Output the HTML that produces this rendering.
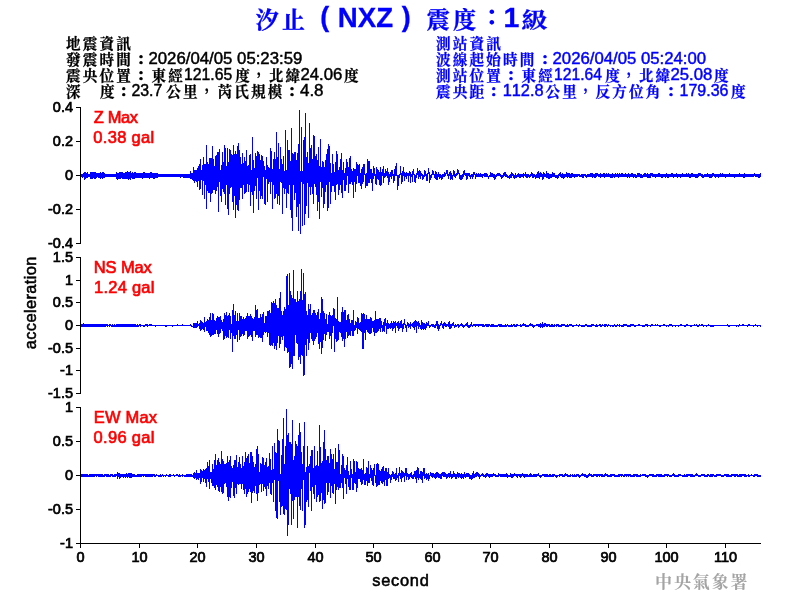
<!DOCTYPE html>
<html lang="zh-Hant"><head><meta charset="utf-8"><title>汐止 (NXZ) 震度：1級</title>
<style>html,body{margin:0;padding:0;background:#fff}body{width:800px;height:600px;overflow:hidden}svg{display:block}text{font-family:"Liberation Sans",sans-serif}.k{font-family:"Liberation Sans","Noto Serif CJK SC",serif;font-weight:700;stroke-width:.25px}.k2{font-family:"Liberation Sans","Noto Serif CJK SC",serif;font-weight:700}.b{font-weight:bold;font-kerning:none}.t{font-size:14.5px;fill:#000;stroke:#000;stroke-width:.7px}.l{font-size:16px;font-kerning:none;stroke-width:.45px}.c{font-size:14.6px;letter-spacing:2.15px}.p{font-size:15px;stroke-width:.7px;stroke-linejoin:miter}.q{font-size:14px;stroke-width:.3px}.r{font-size:16.5px;fill:#f00;stroke:#f00;stroke-width:.65px;font-kerning:none}.a{font-size:16.4px;fill:#000;stroke:#000;stroke-width:.55px}</style></head><body>
<svg width="800" height="600" viewBox="0 0 800 600">
<rect width="800" height="600" fill="#fff"/>
<g fill="#00f" font-size="24px" stroke="#00f" stroke-width=".3">
<text class="k2" x="255.8" y="27.8" font-size="23px" letter-spacing="3.2">汐止</text>
<text class="b" x="320.3" y="26.25" font-size="26.9px">(</text>
<text class="b" x="337.8" y="26.65" font-size="28.5px" textLength="55.3" lengthAdjust="spacingAndGlyphs">NXZ</text>
<text class="b" x="401.7" y="26.25" font-size="26.9px">)</text>
<text class="k2" x="426.8" y="27.8" font-size="23px" letter-spacing="3.2">震度</text>
<text class="k2" x="484.65" y="25.4" font-size="26.5px" stroke="none">：</text>
<text class="b" x="503.6" y="26.5" font-size="28.5px">1</text>
<text class="k2" x="521.5" y="27.3" font-size="21px" textLength="26" lengthAdjust="spacingAndGlyphs">級</text>
</g>
<g fill="#000" stroke="#000">
<text class="k c" x="66.08" y="48.9">地震資訊</text>
</g>
<g fill="#000" stroke="#000">
<text class="k c" x="66.08" y="64.9">發震時間</text>
<text class="k p" x="137.00" y="63.7">：</text>
<text class="l" x="148.46" y="63.5" textLength="153.89" lengthAdjust="spacingAndGlyphs" xml:space="preserve">2026/04/05 05:23:59</text>
</g>
<g fill="#000" stroke="#000">
<text class="k c" x="66.08" y="80.9">震央位置</text>
<text class="k p" x="137.00" y="79.7">：</text>
<text class="k c" x="151.47" y="80.9">東經</text>
<text class="l" x="184.02" y="79.5" textLength="48.16" lengthAdjust="spacingAndGlyphs" xml:space="preserve">121.65</text>
<text class="k c" x="235.27" y="80.9">度</text>
<text class="k q" x="256.65" y="73.9">，</text>
<text class="k c" x="268.68" y="80.9">北緯</text>
<text class="l" x="300.47" y="79.5" textLength="41.87" lengthAdjust="spacingAndGlyphs" xml:space="preserve">24.06</text>
<text class="k c" x="344.07" y="80.9">度</text>
</g>
<g fill="#000" stroke="#000">
<text class="k c" x="66.08" y="96.9">深　</text>
<text class="k c" x="99.98" y="96.9">度</text>
<text class="k p" x="119.75" y="95.7">：</text>
<text class="l" x="131.41" y="95.5" textLength="30.93" lengthAdjust="spacingAndGlyphs" xml:space="preserve">23.7</text>
<text class="k c" x="166.17" y="96.9">公里</text>
<text class="k q" x="204.80" y="89.9">，</text>
<text class="k c" x="217.47" y="96.9">芮氏規模</text>
<text class="k p" x="287.90" y="95.7">：</text>
<text class="l" x="299.99" y="95.5" textLength="23.56" lengthAdjust="spacingAndGlyphs" xml:space="preserve">4.8</text>
</g>
<g fill="#00f" stroke="#00f">
<text class="k c" x="436.07" y="48.9">測站資訊</text>
</g>
<g fill="#00f" stroke="#00f">
<text class="k c" x="436.07" y="64.9">波線起始時間</text>
<text class="k p" x="541.00" y="63.7">：</text>
<text class="l" x="552.57" y="63.5" textLength="153.52" lengthAdjust="spacingAndGlyphs" xml:space="preserve">2026/04/05 05:24:00</text>
</g>
<g fill="#00f" stroke="#00f">
<text class="k c" x="436.07" y="80.9">測站位置</text>
<text class="k p" x="507.00" y="79.7">：</text>
<text class="k c" x="521.48" y="80.9">東經</text>
<text class="l" x="554.03" y="79.5" textLength="47.90" lengthAdjust="spacingAndGlyphs" xml:space="preserve">121.64</text>
<text class="k c" x="605.28" y="80.9">度</text>
<text class="k q" x="626.65" y="73.9">，</text>
<text class="k c" x="638.68" y="80.9">北緯</text>
<text class="l" x="670.47" y="79.5" textLength="41.87" lengthAdjust="spacingAndGlyphs" xml:space="preserve">25.08</text>
<text class="k c" x="714.08" y="80.9">度</text>
</g>
<g fill="#00f" stroke="#00f">
<text class="k c" x="436.07" y="96.9">震央距</text>
<text class="k p" x="489.75" y="95.7">：</text>
<text class="l" x="502.73" y="95.5" textLength="40.84" lengthAdjust="spacingAndGlyphs" xml:space="preserve">112.8</text>
<text class="k c" x="545.58" y="96.9">公里</text>
<text class="k q" x="583.50" y="89.9">，</text>
<text class="k c" x="595.58" y="96.9">反方位角</text>
<text class="k p" x="666.90" y="95.7">：</text>
<text class="l" x="679.60" y="95.5" textLength="48.83" lengthAdjust="spacingAndGlyphs" xml:space="preserve">179.36</text>
<text class="k c" x="730.88" y="96.9">度</text>
</g>
<g fill="#000" shape-rendering="crispEdges">
<rect x="80" y="107" width="1" height="137"/>
<rect x="76" y="107" width="4" height="1"/>
<rect x="76" y="141" width="4" height="1"/>
<rect x="76" y="175" width="4" height="1"/>
<rect x="76" y="209" width="4" height="1"/>
<rect x="76" y="243" width="4" height="1"/>
<rect x="80" y="257" width="1" height="137"/>
<rect x="76" y="257" width="4" height="1"/>
<rect x="76" y="280" width="4" height="1"/>
<rect x="76" y="302" width="4" height="1"/>
<rect x="76" y="325" width="4" height="1"/>
<rect x="76" y="348" width="4" height="1"/>
<rect x="76" y="370" width="4" height="1"/>
<rect x="76" y="393" width="4" height="1"/>
<rect x="80" y="407" width="1" height="137"/>
<rect x="76" y="407" width="4" height="1"/>
<rect x="76" y="441" width="4" height="1"/>
<rect x="76" y="475" width="4" height="1"/>
<rect x="76" y="509" width="4" height="1"/>
<rect x="76" y="543" width="4" height="1"/>
<rect x="80" y="543" width="681" height="1"/>
<rect x="80" y="543" width="1" height="5"/>
<rect x="139" y="543" width="1" height="5"/>
<rect x="197" y="543" width="1" height="5"/>
<rect x="256" y="543" width="1" height="5"/>
<rect x="315" y="543" width="1" height="5"/>
<rect x="373" y="543" width="1" height="5"/>
<rect x="432" y="543" width="1" height="5"/>
<rect x="490" y="543" width="1" height="5"/>
<rect x="549" y="543" width="1" height="5"/>
<rect x="608" y="543" width="1" height="5"/>
<rect x="666" y="543" width="1" height="5"/>
<rect x="725" y="543" width="1" height="5"/>
</g>
<g class="t" text-anchor="end">
<text x="73" y="112">0.4</text>
<text x="73" y="146">0.2</text>
<text x="73" y="180">0</text>
<text x="73" y="214">-0.2</text>
<text x="73" y="248">-0.4</text>
<text x="73" y="262">1.5</text>
<text x="73" y="285">1</text>
<text x="73" y="307">0.5</text>
<text x="73" y="330">0</text>
<text x="73" y="353">-0.5</text>
<text x="73" y="375">-1</text>
<text x="73" y="398">-1.5</text>
<text x="73" y="412">1</text>
<text x="73" y="446">0.5</text>
<text x="73" y="480">0</text>
<text x="73" y="514">-0.5</text>
<text x="73" y="548">-1</text>
</g>
<g class="t" text-anchor="middle">
<text x="80.5" y="562.1">0</text>
<text x="139.5" y="562.1">10</text>
<text x="197.5" y="562.1">20</text>
<text x="256.5" y="562.1">30</text>
<text x="315.5" y="562.1">40</text>
<text x="373.5" y="562.1">50</text>
<text x="432.5" y="562.1">60</text>
<text x="490.5" y="562.1">70</text>
<text x="549.5" y="562.1">80</text>
<text x="608.5" y="562.1">90</text>
<text x="666.5" y="562.1">100</text>
<text x="725.5" y="562.1">110</text>
</g>
<text class="a" x="400.9" y="585.6" text-anchor="middle" letter-spacing="0.75">second</text>
<text class="a" transform="translate(36.4 302.7) rotate(-90)" text-anchor="middle" letter-spacing="0.4">acceleration</text>
<g class="r">
<text x="93.7" y="123" textLength="44.4" lengthAdjust="spacing">Z Max</text><text x="93.3" y="142.8" textLength="60.8" lengthAdjust="spacing">0.38 gal</text>
<text x="93.75" y="273" textLength="58.1" lengthAdjust="spacing">NS Max</text><text x="94.05" y="292.8" textLength="60.4" lengthAdjust="spacing">1.24 gal</text>
<text x="93.85" y="423" textLength="63.2" lengthAdjust="spacing">EW Max</text><text x="93.55" y="442.8" textLength="60.9" lengthAdjust="spacing">0.96 gal</text>
</g>
<text class="k" x="655" y="587.9" font-size="17px" fill="#a4a4a4" letter-spacing="1.9">中央氣象署</text>
<g fill="#00f" shape-rendering="crispEdges">
<path d="M81 174v3h1v-3zM82 174v4h1v-4zM83 173v4h1v-4zM84 172v8h1v-8zM85 172v7h1v-7zM86 173v5h1v-5zM87 172v6h1v-6zM88 174v3h1v-3zM89 174v3h1v-3zM90 172v7h1v-7zM91 172v7h1v-7zM92 172v7h1v-7zM93 172v6h1v-6zM94 172v7h1v-7zM95 172v7h1v-7zM96 173v5h1v-5zM97 173v4h1v-4zM98 173v5h1v-5zM99 173v5h1v-5zM100 172v7h1v-7zM101 173v5h1v-5zM102 172v7h1v-7zM103 172v6h1v-6zM104 173v5h1v-5zM105 174v3h1v-3zM106 174v3h1v-3zM107 174v3h1v-3zM108 174v3h1v-3zM109 174v3h1v-3zM110 174v3h1v-3zM111 174v3h1v-3zM112 174v3h1v-3zM113 174v3h1v-3zM114 174v3h1v-3zM115 174v3h1v-3zM116 172v7h1v-7zM117 173v7h1v-7zM118 173v6h1v-6zM119 172v7h1v-7zM120 172v7h1v-7zM121 172v6h1v-6zM122 172v7h1v-7zM123 173v6h1v-6zM124 173v6h1v-6zM125 172v7h1v-7zM126 172v7h1v-7zM127 171v8h1v-8zM128 172v8h1v-8zM129 172v7h1v-7zM130 171v9h1v-9zM131 173v5h1v-5zM132 172v7h1v-7zM133 173v6h1v-6zM134 172v7h1v-7zM135 172v6h1v-6zM136 173v5h1v-5zM137 173v5h1v-5zM138 173v5h1v-5zM139 173v5h1v-5zM140 173v5h1v-5zM141 173v5h1v-5zM142 173v6h1v-6zM143 172v6h1v-6zM144 172v6h1v-6zM145 173v5h1v-5zM146 173v5h1v-5zM147 173v5h1v-5zM148 173v5h1v-5zM149 173v6h1v-6zM150 172v6h1v-6zM151 172v6h1v-6zM152 173v5h1v-5zM153 173v6h1v-6zM154 173v6h1v-6zM155 173v5h1v-5zM156 173v5h1v-5zM157 173v5h1v-5zM158 174v3h1v-3zM159 174v3h1v-3zM160 174v3h1v-3zM161 174v3h1v-3zM162 174v3h1v-3zM163 174v3h1v-3zM164 174v3h1v-3zM165 174v3h1v-3zM166 174v3h1v-3zM167 174v3h1v-3zM168 174v3h1v-3zM169 174v3h1v-3zM170 174v3h1v-3zM171 174v3h1v-3zM172 174v3h1v-3zM173 174v3h1v-3zM174 174v3h1v-3zM175 174v3h1v-3zM176 174v3h1v-3zM177 174v3h1v-3zM178 174v3h1v-3zM179 174v3h1v-3zM180 174v4h1v-4zM181 174v3h1v-3zM182 174v3h1v-3zM183 174v4h1v-4zM184 174v4h1v-4zM185 174v4h1v-4zM186 174v4h1v-4zM187 174v4h1v-4zM188 174v4h1v-4zM189 174v4h1v-4zM190 171v8h1v-8zM191 173v6h1v-6zM192 173v7h1v-7zM193 167v14h1v-14zM194 170v13h1v-13zM195 170v11h1v-11zM196 170v12h1v-12zM197 168v19h1v-19zM198 166v15h1v-15zM199 164v26h1v-26zM200 159v30h1v-30zM201 170v10h1v-10zM202 165v30h1v-30zM203 157v24h1v-24zM204 164v35h1v-35zM205 164v21h1v-21zM206 145v64h1v-64zM207 162v29h1v-29zM208 164v29h1v-29zM209 158v35h1v-35zM210 158v44h1v-44zM211 158v36h1v-36zM212 146v47h1v-47zM213 159v31h1v-31zM214 166v24h1v-24zM215 156v38h1v-38zM216 155v36h1v-36zM217 152v35h1v-35zM218 152v60h1v-60zM219 149v33h1v-33zM220 170v26h1v-26zM221 165v37h1v-37zM222 152v37h1v-37zM223 162v30h1v-30zM224 145v49h1v-49zM225 148v57h1v-57zM226 166v19h1v-19zM227 148v61h1v-61zM228 162v53h1v-53zM229 149v45h1v-45zM230 150v38h1v-38zM231 154v33h1v-33zM232 155v47h1v-47zM233 145v65h1v-65zM234 154v42h1v-42zM235 151v67h1v-67zM236 154v51h1v-51zM237 146v64h1v-64zM238 143v68h1v-68zM239 150v50h1v-50zM240 157v31h1v-31zM241 164v24h1v-24zM242 153v46h1v-46zM243 163v22h1v-22zM244 157v37h1v-37zM245 161v32h1v-32zM246 150v42h1v-42zM247 166v18h1v-18zM248 165v27h1v-27zM249 155v30h1v-30zM250 154v52h1v-52zM251 170v22h1v-22zM252 137v58h1v-58zM253 160v53h1v-53zM254 168v23h1v-23zM255 153v33h1v-33zM256 156v43h1v-43zM257 151v27h1v-27zM258 152v58h1v-58zM259 154v37h1v-37zM260 160v39h1v-39zM261 155v41h1v-41zM262 156v43h1v-43zM263 161v16h1v-16zM264 166v38h1v-38zM265 170v35h1v-35zM266 157v22h1v-22zM267 165v37h1v-37zM268 167v17h1v-17zM269 168v14h1v-14zM270 148v46h1v-46zM271 151v31h1v-31zM272 169v40h1v-40zM273 159v26h1v-26zM274 152v47h1v-47zM275 159v39h1v-39zM276 132v62h1v-62zM277 157v47h1v-47zM278 143v53h1v-53zM279 169v36h1v-36zM280 147v35h1v-35zM281 159v24h1v-24zM282 164v50h1v-50zM283 156v32h1v-32zM284 171v23h1v-23zM285 130v59h1v-59zM286 170v38h1v-38zM287 140v53h1v-53zM288 150v44h1v-44zM289 150v35h1v-35zM290 161v49h1v-49zM291 128v90h1v-90zM292 153v78h1v-78zM293 154v31h1v-31zM294 152v48h1v-48zM295 152v41h1v-41zM296 160v57h1v-57zM297 153v54h1v-54zM298 144v87h1v-87zM299 110v94h1v-94zM300 171v63h1v-63zM301 127v55h1v-55zM302 171v55h1v-55zM303 140v44h1v-44zM304 137v88h1v-88zM305 113v101h1v-101zM306 157v49h1v-49zM307 152v31h1v-31zM308 163v55h1v-55zM309 123v64h1v-64zM310 148v47h1v-47zM311 145v42h1v-42zM312 159v35h1v-35zM313 135v69h1v-69zM314 136v48h1v-48zM315 156v31h1v-31zM316 154v41h1v-41zM317 160v51h1v-51zM318 147v55h1v-55zM319 166v53h1v-53zM320 139v43h1v-43zM321 167v30h1v-30zM322 161v27h1v-27zM323 162v46h1v-46zM324 167v37h1v-37zM325 160v32h1v-32zM326 154v31h1v-31zM327 149v62h1v-62zM328 144v64h1v-64zM329 146v36h1v-36zM330 163v41h1v-41zM331 173v19h1v-19zM332 154v32h1v-32zM333 164v22h1v-22zM334 172v20h1v-20zM335 162v38h1v-38zM336 151v34h1v-34zM337 154v30h1v-30zM338 170v25h1v-25zM339 167v23h1v-23zM340 159v26h1v-26zM341 153v40h1v-40zM342 170v28h1v-28zM343 162v18h1v-18zM344 173v18h1v-18zM345 168v23h1v-23zM346 159v26h1v-26zM347 162v14h1v-14zM348 167v26h1v-26zM349 158v26h1v-26zM350 156v28h1v-28zM351 169v13h1v-13zM352 171v14h1v-14zM353 168v30h1v-30zM354 169v13h1v-13zM355 169v23h1v-23zM356 162v22h1v-22zM357 164v12h1v-12zM358 165v18h1v-18zM359 164v19h1v-19zM360 173v13h1v-13zM361 169v20h1v-20zM362 167v17h1v-17zM363 164v18h1v-18zM364 164v11h1v-11zM365 174v14h1v-14zM366 173v13h1v-13zM367 159v27h1v-27zM368 161v22h1v-22zM369 161v22h1v-22zM370 169v10h1v-10zM371 169v14h1v-14zM372 173v18h1v-18zM373 166v13h1v-13zM374 168v8h1v-8zM375 174v10h1v-10zM376 167v18h1v-18zM377 169v10h1v-10zM378 170v10h1v-10zM379 172v13h1v-13zM380 167v19h1v-19zM381 172v13h1v-13zM382 169v7h1v-7zM383 166v17h1v-17zM384 173v5h1v-5zM385 169v8h1v-8zM386 171v5h1v-5zM387 168v10h1v-10zM388 172v13h1v-13zM389 174v8h1v-8zM390 172v5h1v-5zM391 170v9h1v-9zM392 170v6h1v-6zM393 174v9h1v-9zM394 169v12h1v-12zM395 166v10h1v-10zM396 163v13h1v-13zM397 175v15h1v-15zM398 175v11h1v-11zM399 174v4h1v-4zM400 166v9h1v-9zM401 173v11h1v-11zM402 171v11h1v-11zM403 167v9h1v-9zM404 172v9h1v-9zM405 173v4h1v-4zM406 172v7h1v-7zM407 173v3h1v-3zM408 173v9h1v-9zM409 171v5h1v-5zM410 172v11h1v-11zM411 174v3h1v-3zM412 171v11h1v-11zM413 169v6h1v-6zM414 174v8h1v-8zM415 175v8h1v-8zM416 173v5h1v-5zM417 168v7h1v-7zM418 171v8h1v-8zM419 170v7h1v-7zM420 171v8h1v-8zM421 173v3h1v-3zM422 174v6h1v-6zM423 175v4h1v-4zM424 170v7h1v-7zM425 171v5h1v-5zM426 174v7h1v-7zM427 173v8h1v-8zM428 168v6h1v-6zM429 172v11h1v-11zM430 175v5h1v-5zM431 174v4h1v-4zM432 170v5h1v-5zM433 171v4h1v-4zM434 174v4h1v-4zM435 171v8h1v-8zM436 172v8h1v-8zM437 174v6h1v-6zM438 172v5h1v-5zM439 174v5h1v-5zM440 174v4h1v-4zM441 175v5h1v-5zM442 174v5h1v-5zM443 174v3h1v-3zM444 172v5h1v-5zM445 173v3h1v-3zM446 170v4h1v-4zM447 170v6h1v-6zM448 174v5h1v-5zM449 172v4h1v-4zM450 171v9h1v-9zM451 173v6h1v-6zM452 175v5h1v-5zM453 170v6h1v-6zM454 171v6h1v-6zM455 174v4h1v-4zM456 173v3h1v-3zM457 169v6h1v-6zM458 170v4h1v-4zM459 173v6h1v-6zM460 175v5h1v-5zM461 175v5h1v-5zM462 174v5h1v-5zM463 171v6h1v-6zM464 170v5h1v-5zM465 173v3h1v-3zM466 173v7h1v-7zM467 173v6h1v-6zM468 173v3h1v-3zM469 173v4h1v-4zM470 175v4h1v-4zM471 174v3h1v-3zM472 174v5h1v-5zM473 172v5h1v-5zM474 172v3h1v-3zM475 174v5h1v-5zM476 173v4h1v-4zM477 174v3h1v-3zM478 173v4h1v-4zM479 174v3h1v-3zM480 173v4h1v-4zM481 174v3h1v-3zM482 174v4h1v-4zM483 174v2h1v-2zM484 173v4h1v-4zM485 173v4h1v-4zM486 173v4h1v-4zM487 174v3h1v-3zM488 176v3h1v-3zM489 175v2h1v-2zM490 172v5h1v-5zM491 173v4h1v-4zM492 173v4h1v-4zM493 174v4h1v-4zM494 174v6h1v-6zM495 175v4h1v-4zM496 174v3h1v-3zM497 173v3h1v-3zM498 173v3h1v-3zM499 173v3h1v-3zM500 174v3h1v-3zM501 175v4h1v-4zM502 175v3h1v-3zM503 173v4h1v-4zM504 172v4h1v-4zM505 172v5h1v-5zM506 174v3h1v-3zM507 175v3h1v-3zM508 176v2h1v-2zM509 175v4h1v-4zM510 174v4h1v-4zM511 172v6h1v-6zM512 173v3h1v-3zM513 174v4h1v-4zM514 175v4h1v-4zM515 173v5h1v-5zM516 175v3h1v-3zM517 174v3h1v-3zM518 173v4h1v-4zM519 174v4h1v-4zM520 174v4h1v-4zM521 174v3h1v-3zM522 174v3h1v-3zM523 173v5h1v-5zM524 174v2h1v-2zM525 172v5h1v-5zM526 174v4h1v-4zM527 174v4h1v-4zM528 174v3h1v-3zM529 175v3h1v-3zM530 174v3h1v-3zM531 172v4h1v-4zM532 173v5h1v-5zM533 174v4h1v-4zM534 174v3h1v-3zM535 175v4h1v-4zM536 174v4h1v-4zM537 172v6h1v-6zM538 171v7h1v-7zM539 173v6h1v-6zM540 172v5h1v-5zM541 173v4h1v-4zM542 174v6h1v-6zM543 172v7h1v-7zM544 173v4h1v-4zM545 174v3h1v-3zM546 171v7h1v-7zM547 173v5h1v-5zM548 173v6h1v-6zM549 174v5h1v-5zM550 174v4h1v-4zM551 174v4h1v-4zM552 172v5h1v-5zM553 173v4h1v-4zM554 173v4h1v-4zM555 175v3h1v-3zM556 175v3h1v-3zM557 175v4h1v-4zM558 174v4h1v-4zM559 173v3h1v-3zM560 172v5h1v-5zM561 174v4h1v-4zM562 173v5h1v-5zM563 174v5h1v-5zM564 174v4h1v-4zM565 174v3h1v-3zM566 172v5h1v-5zM567 173v5h1v-5zM568 173v4h1v-4zM569 173v5h1v-5zM570 174v4h1v-4zM571 173v5h1v-5zM572 173v4h1v-4zM573 174v3h1v-3zM574 174v4h1v-4zM575 174v3h1v-3zM576 174v3h1v-3zM577 174v3h1v-3zM578 174v2h1v-2zM579 174v3h1v-3zM580 175v2h1v-2zM581 174v3h1v-3zM582 174v4h1v-4zM583 174v4h1v-4zM584 174v2h1v-2zM585 174v3h1v-3zM586 175v3h1v-3zM587 174v3h1v-3zM588 174v3h1v-3zM589 174v3h1v-3zM590 173v4h1v-4zM591 173v4h1v-4zM592 173v5h1v-5zM593 174v3h1v-3zM594 174v4h1v-4zM595 173v5h1v-5zM596 173v4h1v-4zM597 173v3h1v-3zM598 174v3h1v-3zM599 174v3h1v-3zM600 173v5h1v-5zM601 174v3h1v-3zM602 174v3h1v-3zM603 173v4h1v-4zM604 173v5h1v-5zM605 174v3h1v-3zM606 173v4h1v-4zM607 174v3h1v-3zM608 173v4h1v-4zM609 174v3h1v-3zM610 174v4h1v-4zM611 174v4h1v-4zM612 173v5h1v-5zM613 174v3h1v-3zM614 174v4h1v-4zM615 173v4h1v-4zM616 174v3h1v-3zM617 173v4h1v-4zM618 174v4h1v-4zM619 173v4h1v-4zM620 174v3h1v-3zM621 173v4h1v-4zM622 173v4h1v-4zM623 174v3h1v-3zM624 174v3h1v-3zM625 173v4h1v-4zM626 174v3h1v-3zM627 174v4h1v-4zM628 173v4h1v-4zM629 174v4h1v-4zM630 174v3h1v-3zM631 173v4h1v-4zM632 173v4h1v-4zM633 174v4h1v-4zM634 174v3h1v-3zM635 174v4h1v-4zM636 175v3h1v-3zM637 173v4h1v-4zM638 173v4h1v-4zM639 173v4h1v-4zM640 174v4h1v-4zM641 174v4h1v-4zM642 175v3h1v-3zM643 174v3h1v-3zM644 173v4h1v-4zM645 173v4h1v-4zM646 174v3h1v-3zM647 173v5h1v-5zM648 174v4h1v-4zM649 174v4h1v-4zM650 173v5h1v-5zM651 173v3h1v-3zM652 173v4h1v-4zM653 174v3h1v-3zM654 174v3h1v-3zM655 174v4h1v-4zM656 174v3h1v-3zM657 174v3h1v-3zM658 173v4h1v-4zM659 173v4h1v-4zM660 174v3h1v-3zM661 174v4h1v-4zM662 174v4h1v-4zM663 174v3h1v-3zM664 174v3h1v-3zM665 174v4h1v-4zM666 173v4h1v-4zM667 174v4h1v-4zM668 174v4h1v-4zM669 174v3h1v-3zM670 174v3h1v-3zM671 173v4h1v-4zM672 173v4h1v-4zM673 174v4h1v-4zM674 174v3h1v-3zM675 174v3h1v-3zM676 173v4h1v-4zM677 174v4h1v-4zM678 174v3h1v-3zM679 174v3h1v-3zM680 174v4h1v-4zM681 174v3h1v-3zM682 173v4h1v-4zM683 174v3h1v-3zM684 174v3h1v-3zM685 174v3h1v-3zM686 173v4h1v-4zM687 174v3h1v-3zM688 173v4h1v-4zM689 174v4h1v-4zM690 174v4h1v-4zM691 173v4h1v-4zM692 173v4h1v-4zM693 174v3h1v-3zM694 174v3h1v-3zM695 174v4h1v-4zM696 174v4h1v-4zM697 174v4h1v-4zM698 173v4h1v-4zM699 173v3h1v-3zM700 173v3h1v-3zM701 174v3h1v-3zM702 174v4h1v-4zM703 175v3h1v-3zM704 174v3h1v-3zM705 174v3h1v-3zM706 174v3h1v-3zM707 173v4h1v-4zM708 174v3h1v-3zM709 174v4h1v-4zM710 174v4h1v-4zM711 174v4h1v-4zM712 173v4h1v-4zM713 173v3h1v-3zM714 174v3h1v-3zM715 174v4h1v-4zM716 174v3h1v-3zM717 174v3h1v-3zM718 174v4h1v-4zM719 174v3h1v-3zM720 173v4h1v-4zM721 174v3h1v-3zM722 173v4h1v-4zM723 174v3h1v-3zM724 174v3h1v-3zM725 174v4h1v-4zM726 174v3h1v-3zM727 174v3h1v-3zM728 174v3h1v-3zM729 173v4h1v-4zM730 174v3h1v-3zM731 174v3h1v-3zM732 174v3h1v-3zM733 174v3h1v-3zM734 174v4h1v-4zM735 174v3h1v-3zM736 174v3h1v-3zM737 174v3h1v-3zM738 174v3h1v-3zM739 173v4h1v-4zM740 174v3h1v-3zM741 174v3h1v-3zM742 174v3h1v-3zM743 174v4h1v-4zM744 173v5h1v-5zM745 174v3h1v-3zM746 174v3h1v-3zM747 174v3h1v-3zM748 174v3h1v-3zM749 174v3h1v-3zM750 174v3h1v-3zM751 174v3h1v-3zM752 174v3h1v-3zM753 174v3h1v-3zM754 173v3h1v-3zM755 174v3h1v-3zM756 174v3h1v-3zM757 174v3h1v-3zM758 174v4h1v-4zM759 174v4h1v-4zM760 173v4h1v-4z"/>
<path d="M81 324v3h1v-3zM82 324v3h1v-3zM83 323v4h1v-4zM84 324v3h1v-3zM85 324v3h1v-3zM86 324v3h1v-3zM87 324v3h1v-3zM88 324v3h1v-3zM89 324v3h1v-3zM90 324v3h1v-3zM91 324v3h1v-3zM92 324v3h1v-3zM93 324v3h1v-3zM94 324v3h1v-3zM95 324v3h1v-3zM96 324v3h1v-3zM97 324v3h1v-3zM98 324v3h1v-3zM99 324v3h1v-3zM100 324v3h1v-3zM101 324v3h1v-3zM102 324v3h1v-3zM103 324v3h1v-3zM104 324v3h1v-3zM105 324v3h1v-3zM106 324v2h1v-2zM107 324v3h1v-3zM108 325v1h1v-1zM109 324v3h1v-3zM110 324v2h1v-2zM111 325v2h1v-2zM112 324v3h1v-3zM113 325v2h1v-2zM114 324v3h1v-3zM115 325v2h1v-2zM116 324v3h1v-3zM117 324v3h1v-3zM118 324v3h1v-3zM119 324v3h1v-3zM120 324v3h1v-3zM121 324v3h1v-3zM122 324v3h1v-3zM123 324v3h1v-3zM124 324v3h1v-3zM125 324v3h1v-3zM126 324v3h1v-3zM127 324v3h1v-3zM128 324v3h1v-3zM129 324v3h1v-3zM130 324v3h1v-3zM131 324v3h1v-3zM132 324v3h1v-3zM133 324v3h1v-3zM134 324v3h1v-3zM135 324v3h1v-3zM136 325v2h1v-2zM137 324v3h1v-3zM138 325v2h1v-2zM139 324v2h1v-2zM140 324v3h1v-3zM141 325v1h1v-1zM142 325v1h1v-1zM143 325v2h1v-2zM144 325v2h1v-2zM145 324v2h1v-2zM146 324v2h1v-2zM147 324v3h1v-3zM148 325v1h1v-1zM149 324v2h1v-2zM150 324v2h1v-2zM151 324v2h1v-2zM152 325v1h1v-1zM153 325v1h1v-1zM154 325v1h1v-1zM155 325v2h1v-2zM156 325v1h1v-1zM157 325v1h1v-1zM158 325v1h1v-1zM159 325v1h1v-1zM160 325v1h1v-1zM161 325v1h1v-1zM162 325v1h1v-1zM163 325v1h1v-1zM164 325v1h1v-1zM165 325v2h1v-2zM166 325v2h1v-2zM167 325v1h1v-1zM168 325v1h1v-1zM169 325v1h1v-1zM170 325v1h1v-1zM171 325v1h1v-1zM172 325v2h1v-2zM173 325v1h1v-1zM174 325v1h1v-1zM175 325v1h1v-1zM176 325v1h1v-1zM177 324v2h1v-2zM178 325v1h1v-1zM179 325v1h1v-1zM180 325v1h1v-1zM181 325v1h1v-1zM182 324v2h1v-2zM183 325v1h1v-1zM184 325v1h1v-1zM185 325v1h1v-1zM186 325v1h1v-1zM187 325v1h1v-1zM188 325v1h1v-1zM189 325v1h1v-1zM190 324v2h1v-2zM191 325v2h1v-2zM192 326v1h1v-1zM193 323v5h1v-5zM194 323v5h1v-5zM195 323v5h1v-5zM196 323v5h1v-5zM197 321v6h1v-6zM198 324v2h1v-2zM199 323v6h1v-6zM200 320v11h1v-11zM201 321v9h1v-9zM202 322v7h1v-7zM203 323v7h1v-7zM204 317v15h1v-15zM205 322v5h1v-5zM206 321v10h1v-10zM207 319v12h1v-12zM208 320v13h1v-13zM209 317v18h1v-18zM210 313v24h1v-24zM211 320v16h1v-16zM212 313v22h1v-22zM213 314v21h1v-21zM214 320v14h1v-14zM215 321v13h1v-13zM216 318v12h1v-12zM217 316v18h1v-18zM218 317v20h1v-20zM219 317v17h1v-17zM220 316v17h1v-17zM221 320v9h1v-9zM222 322v9h1v-9zM223 319v21h1v-21zM224 313v26h1v-26zM225 315v21h1v-21zM226 312v26h1v-26zM227 316v21h1v-21zM228 315v23h1v-23zM229 313v17h1v-17zM230 316v23h1v-23zM231 324v9h1v-9zM232 310v42h1v-42zM233 304v32h1v-32zM234 315v24h1v-24zM235 311v28h1v-28zM236 321v14h1v-14zM237 313v29h1v-29zM238 321v9h1v-9zM239 313v27h1v-27zM240 316v21h1v-21zM241 316v20h1v-20zM242 319v15h1v-15zM243 317v19h1v-19zM244 319v16h1v-16zM245 318v13h1v-13zM246 316v15h1v-15zM247 313v26h1v-26zM248 316v21h1v-21zM249 316v20h1v-20zM250 314v21h1v-21zM251 316v21h1v-21zM252 318v23h1v-23zM253 319v12h1v-12zM254 317v14h1v-14zM255 305v32h1v-32zM256 310v25h1v-25zM257 309v26h1v-26zM258 318v20h1v-20zM259 318v19h1v-19zM260 314v24h1v-24zM261 317v21h1v-21zM262 314v28h1v-28zM263 312v23h1v-23zM264 323v9h1v-9zM265 316v17h1v-17zM266 316v16h1v-16zM267 311v26h1v-26zM268 311v22h1v-22zM269 310v35h1v-35zM270 313v33h1v-33zM271 302v43h1v-43zM272 303v43h1v-43zM273 301v42h1v-42zM274 303v46h1v-46zM275 299v47h1v-47zM276 305v45h1v-45zM277 308v35h1v-35zM278 308v28h1v-28zM279 298v50h1v-50zM280 292v52h1v-52zM281 311v26h1v-26zM282 315v25h1v-25zM283 311v25h1v-25zM284 307v44h1v-44zM285 309v38h1v-38zM286 276v72h1v-72zM287 274v79h1v-79zM288 305v47h1v-47zM289 273v95h1v-95zM290 291v76h1v-76zM291 295v69h1v-69zM292 298v71h1v-71zM293 270v86h1v-86zM294 299v57h1v-57zM295 299v36h1v-36zM296 302v41h1v-41zM297 291v53h1v-53zM298 301v59h1v-59zM299 299v58h1v-58zM300 291v73h1v-73zM301 269v86h1v-86zM302 300v56h1v-56zM303 273v103h1v-103zM304 294v81h1v-81zM305 292v53h1v-53zM306 311v45h1v-45zM307 315v24h1v-24zM308 304v46h1v-46zM309 309v34h1v-34zM310 304v29h1v-29zM311 315v24h1v-24zM312 313v28h1v-28zM313 310v35h1v-35zM314 310v31h1v-31zM315 313v26h1v-26zM316 315v22h1v-22zM317 312v21h1v-21zM318 309v35h1v-35zM319 319v30h1v-30zM320 313v29h1v-29zM321 297v57h1v-57zM322 299v49h1v-49zM323 311v29h1v-29zM324 313v21h1v-21zM325 319v22h1v-22zM326 314v21h1v-21zM327 324v8h1v-8zM328 315v17h1v-17zM329 312v27h1v-27zM330 315v21h1v-21zM331 316v33h1v-33zM332 315v18h1v-18zM333 308v18h1v-18zM334 309v43h1v-43zM335 318v21h1v-21zM336 319v23h1v-23zM337 297v44h1v-44zM338 321v19h1v-19zM339 322v10h1v-10zM340 322v11h1v-11zM341 312v25h1v-25zM342 307v34h1v-34zM343 312v27h1v-27zM344 310v37h1v-37zM345 310v29h1v-29zM346 320v12h1v-12zM347 315v23h1v-23zM348 314v22h1v-22zM349 319v16h1v-16zM350 323v13h1v-13zM351 320v11h1v-11zM352 320v16h1v-16zM353 310v26h1v-26zM354 325v6h1v-6zM355 321v9h1v-9zM356 322v6h1v-6zM357 317v17h1v-17zM358 318v11h1v-11zM359 323v7h1v-7zM360 322v9h1v-9zM361 313v19h1v-19zM362 314v35h1v-35zM363 313v36h1v-36zM364 314v19h1v-19zM365 319v21h1v-21zM366 315v15h1v-15zM367 319v13h1v-13zM368 319v14h1v-14zM369 319v15h1v-15zM370 317v17h1v-17zM371 318v15h1v-15zM372 321v7h1v-7zM373 321v11h1v-11zM374 320v16h1v-16zM375 311v22h1v-22zM376 319v14h1v-14zM377 319v13h1v-13zM378 319v12h1v-12zM379 318v11h1v-11zM380 318v14h1v-14zM381 321v7h1v-7zM382 325v7h1v-7zM383 322v9h1v-9zM384 319v13h1v-13zM385 318v8h1v-8zM386 323v11h1v-11zM387 320v9h1v-9zM388 323v6h1v-6zM389 324v4h1v-4zM390 323v6h1v-6zM391 321v7h1v-7zM392 323v8h1v-8zM393 321v8h1v-8zM394 322v6h1v-6zM395 321v12h1v-12zM396 323v3h1v-3zM397 322v6h1v-6zM398 321v10h1v-10zM399 323v6h1v-6zM400 321v7h1v-7zM401 320v8h1v-8zM402 324v8h1v-8zM403 323v6h1v-6zM404 319v6h1v-6zM405 324v4h1v-4zM406 325v7h1v-7zM407 322v4h1v-4zM408 323v5h1v-5zM409 324v3h1v-3zM410 322v7h1v-7zM411 324v2h1v-2zM412 323v4h1v-4zM413 322v6h1v-6zM414 321v9h1v-9zM415 320v7h1v-7zM416 321v12h1v-12zM417 322v4h1v-4zM418 321v8h1v-8zM419 323v4h1v-4zM420 325v4h1v-4zM421 320v10h1v-10zM422 322v7h1v-7zM423 323v7h1v-7zM424 323v6h1v-6zM425 324v6h1v-6zM426 322v6h1v-6zM427 323v3h1v-3zM428 321v5h1v-5zM429 325v3h1v-3zM430 325v2h1v-2zM431 324v2h1v-2zM432 324v3h1v-3zM433 324v3h1v-3zM434 325v3h1v-3zM435 324v4h1v-4zM436 321v5h1v-5zM437 321v8h1v-8zM438 324v7h1v-7zM439 325v4h1v-4zM440 323v3h1v-3zM441 321v4h1v-4zM442 324v4h1v-4zM443 323v6h1v-6zM444 322v4h1v-4zM445 323v4h1v-4zM446 324v3h1v-3zM447 324v2h1v-2zM448 322v5h1v-5zM449 321v8h1v-8zM450 324v5h1v-5zM451 324v4h1v-4zM452 323v3h1v-3zM453 322v4h1v-4zM454 325v3h1v-3zM455 324v3h1v-3zM456 325v2h1v-2zM457 324v2h1v-2zM458 324v4h1v-4zM459 325v2h1v-2zM460 324v2h1v-2zM461 323v3h1v-3zM462 324v3h1v-3zM463 325v3h1v-3zM464 325v2h1v-2zM465 324v2h1v-2zM466 323v3h1v-3zM467 322v5h1v-5zM468 325v3h1v-3zM469 325v3h1v-3zM470 324v3h1v-3zM471 322v4h1v-4zM472 325v2h1v-2zM473 324v2h1v-2zM474 324v2h1v-2zM475 324v3h1v-3zM476 324v2h1v-2zM477 324v2h1v-2zM478 324v3h1v-3zM479 324v2h1v-2zM480 324v2h1v-2zM481 324v2h1v-2zM482 324v3h1v-3zM483 324v3h1v-3zM484 325v2h1v-2zM485 324v2h1v-2zM486 324v3h1v-3zM487 324v3h1v-3zM488 324v3h1v-3zM489 324v2h1v-2zM490 325v2h1v-2zM491 324v3h1v-3zM492 324v3h1v-3zM493 324v3h1v-3zM494 325v2h1v-2zM495 325v2h1v-2zM496 325v2h1v-2zM497 325v2h1v-2zM498 324v2h1v-2zM499 324v3h1v-3zM500 324v3h1v-3zM501 324v3h1v-3zM502 325v2h1v-2zM503 325v2h1v-2zM504 325v2h1v-2zM505 324v3h1v-3zM506 325v2h1v-2zM507 324v2h1v-2zM508 325v2h1v-2zM509 325v2h1v-2zM510 325v2h1v-2zM511 324v3h1v-3zM512 325v2h1v-2zM513 324v2h1v-2zM514 324v3h1v-3zM515 325v2h1v-2zM516 324v3h1v-3zM517 324v2h1v-2zM518 325v1h1v-1zM519 325v1h1v-1zM520 324v3h1v-3zM521 325v2h1v-2zM522 324v2h1v-2zM523 323v3h1v-3zM524 324v2h1v-2zM525 324v3h1v-3zM526 325v2h1v-2zM527 325v2h1v-2zM528 325v2h1v-2zM529 324v2h1v-2zM530 323v3h1v-3zM531 324v2h1v-2zM532 324v3h1v-3zM533 325v3h1v-3zM534 325v2h1v-2zM535 325v1h1v-1zM536 324v2h1v-2zM537 324v2h1v-2zM538 324v3h1v-3zM539 324v3h1v-3zM540 323v5h1v-5zM541 324v3h1v-3zM542 322v6h1v-6zM543 324v3h1v-3zM544 323v4h1v-4zM545 323v3h1v-3zM546 324v3h1v-3zM547 324v3h1v-3zM548 324v2h1v-2zM549 324v3h1v-3zM550 325v2h1v-2zM551 324v3h1v-3zM552 324v3h1v-3zM553 325v2h1v-2zM554 324v3h1v-3zM555 325v1h1v-1zM556 324v3h1v-3zM557 324v2h1v-2zM558 324v3h1v-3zM559 325v2h1v-2zM560 325v2h1v-2zM561 324v3h1v-3zM562 324v2h1v-2zM563 324v2h1v-2zM564 324v2h1v-2zM565 325v2h1v-2zM566 325v2h1v-2zM567 324v3h1v-3zM568 325v2h1v-2zM569 324v2h1v-2zM570 324v2h1v-2zM571 324v2h1v-2zM572 325v2h1v-2zM573 325v2h1v-2zM574 325v1h1v-1zM575 325v1h1v-1zM576 324v2h1v-2zM577 325v1h1v-1zM578 325v2h1v-2zM579 324v2h1v-2zM580 325v1h1v-1zM581 325v2h1v-2zM582 325v2h1v-2zM583 325v2h1v-2zM584 325v2h1v-2zM585 324v2h1v-2zM586 324v2h1v-2zM587 325v2h1v-2zM588 325v2h1v-2zM589 325v2h1v-2zM590 325v2h1v-2zM591 324v3h1v-3zM592 324v2h1v-2zM593 324v2h1v-2zM594 325v1h1v-1zM595 325v2h1v-2zM596 324v3h1v-3zM597 325v2h1v-2zM598 325v1h1v-1zM599 324v2h1v-2zM600 324v3h1v-3zM601 325v2h1v-2zM602 324v2h1v-2zM603 325v1h1v-1zM604 324v3h1v-3zM605 324v3h1v-3zM606 324v2h1v-2zM607 325v2h1v-2zM608 324v2h1v-2zM609 325v1h1v-1zM610 325v2h1v-2zM611 325v1h1v-1zM612 325v2h1v-2zM613 325v2h1v-2zM614 324v2h1v-2zM615 325v2h1v-2zM616 325v2h1v-2zM617 324v2h1v-2zM618 325v1h1v-1zM619 324v3h1v-3zM620 325v1h1v-1zM621 325v2h1v-2zM622 325v2h1v-2zM623 324v3h1v-3zM624 324v2h1v-2zM625 324v2h1v-2zM626 324v2h1v-2zM627 325v2h1v-2zM628 325v2h1v-2zM629 325v2h1v-2zM630 324v3h1v-3zM631 324v2h1v-2zM632 324v2h1v-2zM633 324v2h1v-2zM634 325v2h1v-2zM635 325v2h1v-2zM636 325v1h1v-1zM637 325v1h1v-1zM638 324v2h1v-2zM639 324v2h1v-2zM640 325v1h1v-1zM641 325v1h1v-1zM642 325v2h1v-2zM643 325v2h1v-2zM644 325v2h1v-2zM645 324v2h1v-2zM646 324v2h1v-2zM647 324v3h1v-3zM648 325v1h1v-1zM649 325v1h1v-1zM650 325v2h1v-2zM651 324v2h1v-2zM652 324v2h1v-2zM653 325v1h1v-1zM654 325v1h1v-1zM655 324v2h1v-2zM656 325v1h1v-1zM657 324v2h1v-2zM658 325v1h1v-1zM659 325v2h1v-2zM660 325v2h1v-2zM661 325v1h1v-1zM662 325v1h1v-1zM663 324v2h1v-2zM664 324v2h1v-2zM665 325v1h1v-1zM666 325v2h1v-2zM667 325v1h1v-1zM668 325v2h1v-2zM669 324v2h1v-2zM670 324v2h1v-2zM671 324v2h1v-2zM672 325v2h1v-2zM673 325v1h1v-1zM674 325v1h1v-1zM675 325v2h1v-2zM676 325v1h1v-1zM677 325v1h1v-1zM678 325v2h1v-2zM679 325v1h1v-1zM680 324v2h1v-2zM681 324v2h1v-2zM682 325v1h1v-1zM683 325v1h1v-1zM684 325v2h1v-2zM685 325v2h1v-2zM686 324v2h1v-2zM687 324v2h1v-2zM688 325v1h1v-1zM689 325v1h1v-1zM690 325v2h1v-2zM691 325v2h1v-2zM692 325v1h1v-1zM693 325v1h1v-1zM694 324v2h1v-2zM695 325v1h1v-1zM696 324v2h1v-2zM697 325v2h1v-2zM698 325v2h1v-2zM699 324v2h1v-2zM700 325v1h1v-1zM701 324v2h1v-2zM702 324v2h1v-2zM703 325v2h1v-2zM704 325v1h1v-1zM705 325v1h1v-1zM706 325v2h1v-2zM707 325v1h1v-1zM708 324v2h1v-2zM709 325v1h1v-1zM710 325v2h1v-2zM711 325v2h1v-2zM712 325v2h1v-2zM713 325v2h1v-2zM714 325v1h1v-1zM715 325v1h1v-1zM716 325v1h1v-1zM717 325v1h1v-1zM718 325v1h1v-1zM719 325v1h1v-1zM720 325v1h1v-1zM721 325v1h1v-1zM722 325v1h1v-1zM723 325v1h1v-1zM724 325v1h1v-1zM725 325v1h1v-1zM726 325v1h1v-1zM727 324v2h1v-2zM728 325v2h1v-2zM729 325v2h1v-2zM730 325v1h1v-1zM731 325v1h1v-1zM732 325v1h1v-1zM733 325v1h1v-1zM734 325v1h1v-1zM735 325v1h1v-1zM736 325v2h1v-2zM737 325v1h1v-1zM738 325v2h1v-2zM739 324v2h1v-2zM740 325v1h1v-1zM741 325v1h1v-1zM742 324v2h1v-2zM743 324v2h1v-2zM744 325v1h1v-1zM745 325v1h1v-1zM746 325v1h1v-1zM747 325v2h1v-2zM748 324v2h1v-2zM749 324v2h1v-2zM750 325v1h1v-1zM751 325v1h1v-1zM752 325v1h1v-1zM753 325v2h1v-2zM754 325v1h1v-1zM755 324v2h1v-2zM756 325v1h1v-1zM757 325v2h1v-2zM758 325v1h1v-1zM759 325v1h1v-1zM760 325v2h1v-2z"/>
<path d="M81 474v3h1v-3zM82 474v3h1v-3zM83 474v3h1v-3zM84 474v3h1v-3zM85 474v3h1v-3zM86 474v3h1v-3zM87 474v3h1v-3zM88 475v2h1v-2zM89 474v3h1v-3zM90 474v3h1v-3zM91 474v3h1v-3zM92 474v3h1v-3zM93 474v3h1v-3zM94 474v3h1v-3zM95 474v2h1v-2zM96 474v3h1v-3zM97 474v2h1v-2zM98 474v3h1v-3zM99 474v3h1v-3zM100 474v3h1v-3zM101 474v3h1v-3zM102 474v3h1v-3zM103 475v2h1v-2zM104 474v3h1v-3zM105 474v2h1v-2zM106 474v3h1v-3zM107 474v3h1v-3zM108 474v3h1v-3zM109 475v2h1v-2zM110 474v3h1v-3zM111 474v2h1v-2zM112 474v3h1v-3zM113 475v2h1v-2zM114 474v3h1v-3zM115 474v3h1v-3zM116 474v2h1v-2zM117 472v7h1v-7zM118 473v4h1v-4zM119 473v6h1v-6zM120 474v4h1v-4zM121 474v3h1v-3zM122 474v3h1v-3zM123 474v4h1v-4zM124 474v3h1v-3zM125 474v4h1v-4zM126 473v4h1v-4zM127 474v4h1v-4zM128 473v4h1v-4zM129 473v5h1v-5zM130 473v5h1v-5zM131 473v5h1v-5zM132 474v3h1v-3zM133 474v3h1v-3zM134 474v3h1v-3zM135 475v2h1v-2zM136 475v2h1v-2zM137 474v3h1v-3zM138 474v3h1v-3zM139 474v3h1v-3zM140 474v3h1v-3zM141 474v3h1v-3zM142 474v2h1v-2zM143 474v3h1v-3zM144 474v2h1v-2zM145 474v3h1v-3zM146 474v3h1v-3zM147 474v3h1v-3zM148 474v3h1v-3zM149 474v3h1v-3zM150 474v3h1v-3zM151 474v3h1v-3zM152 474v3h1v-3zM153 474v2h1v-2zM154 474v3h1v-3zM155 475v2h1v-2zM156 474v2h1v-2zM157 475v1h1v-1zM158 475v2h1v-2zM159 475v2h1v-2zM160 474v3h1v-3zM161 475v2h1v-2zM162 474v2h1v-2zM163 475v2h1v-2zM164 475v1h1v-1zM165 475v2h1v-2zM166 474v2h1v-2zM167 475v1h1v-1zM168 475v2h1v-2zM169 474v3h1v-3zM170 474v3h1v-3zM171 475v1h1v-1zM172 475v1h1v-1zM173 474v2h1v-2zM174 475v2h1v-2zM175 475v1h1v-1zM176 474v2h1v-2zM177 474v2h1v-2zM178 475v2h1v-2zM179 474v3h1v-3zM180 475v2h1v-2zM181 475v1h1v-1zM182 474v3h1v-3zM183 475v1h1v-1zM184 475v2h1v-2zM185 475v2h1v-2zM186 474v3h1v-3zM187 474v3h1v-3zM188 474v3h1v-3zM189 474v3h1v-3zM190 474v3h1v-3zM191 474v3h1v-3zM192 475v2h1v-2zM193 473v5h1v-5zM194 472v7h1v-7zM195 473v5h1v-5zM196 470v10h1v-10zM197 473v6h1v-6zM198 473v7h1v-7zM199 473v5h1v-5zM200 469v15h1v-15zM201 470v12h1v-12zM202 471v7h1v-7zM203 469v13h1v-13zM204 470v9h1v-9zM205 469v14h1v-14zM206 468v19h1v-19zM207 462v17h1v-17zM208 466v16h1v-16zM209 460v29h1v-29zM210 472v7h1v-7zM211 472v11h1v-11zM212 464v22h1v-22zM213 469v17h1v-17zM214 460v28h1v-28zM215 454v36h1v-36zM216 465v20h1v-20zM217 460v27h1v-27zM218 458v33h1v-33zM219 462v30h1v-30zM220 464v23h1v-23zM221 451v41h1v-41zM222 459v35h1v-35zM223 461v32h1v-32zM224 464v20h1v-20zM225 464v19h1v-19zM226 463v24h1v-24zM227 456v41h1v-41zM228 462v39h1v-39zM229 460v37h1v-37zM230 456v42h1v-42zM231 466v22h1v-22zM232 468v14h1v-14zM233 465v31h1v-31zM234 460v38h1v-38zM235 460v28h1v-28zM236 455v39h1v-39zM237 467v17h1v-17zM238 462v23h1v-23zM239 457v27h1v-27zM240 464v20h1v-20zM241 468v21h1v-21zM242 456v28h1v-28zM243 466v24h1v-24zM244 462v32h1v-32zM245 452v37h1v-37zM246 458v39h1v-39zM247 456v38h1v-38zM248 454v38h1v-38zM249 463v26h1v-26zM250 452v40h1v-40zM251 452v51h1v-51zM252 456v37h1v-37zM253 462v29h1v-29zM254 467v26h1v-26zM255 464v22h1v-22zM256 449v45h1v-45zM257 446v55h1v-55zM258 454v39h1v-39zM259 472v13h1v-13zM260 463v21h1v-21zM261 464v28h1v-28zM262 457v27h1v-27zM263 458v33h1v-33zM264 465v22h1v-22zM265 462v27h1v-27zM266 458v38h1v-38zM267 467v19h1v-19zM268 466v23h1v-23zM269 453v30h1v-30zM270 459v35h1v-35zM271 470v25h1v-25zM272 446v37h1v-37zM273 469v33h1v-33zM274 443v37h1v-37zM275 452v59h1v-59zM276 453v65h1v-65zM277 429v90h1v-90zM278 440v41h1v-41zM279 441v61h1v-61zM280 474v41h1v-41zM281 455v52h1v-52zM282 439v67h1v-67zM283 418v96h1v-96zM284 464v51h1v-51zM285 446v63h1v-63zM286 409v101h1v-101zM287 435v101h1v-101zM288 433v92h1v-92zM289 442v47h1v-47zM290 442v52h1v-52zM291 444v81h1v-81zM292 420v81h1v-81zM293 460v59h1v-59zM294 456v44h1v-44zM295 441v56h1v-56zM296 444v53h1v-53zM297 446v82h1v-82zM298 435v62h1v-62zM299 423v83h1v-83zM300 432v78h1v-78zM301 452v37h1v-37zM302 464v47h1v-47zM303 446v34h1v-34zM304 422v106h1v-106zM305 472v53h1v-53zM306 467v35h1v-35zM307 446v54h1v-54zM308 466v41h1v-41zM309 464v9h1v-9zM310 456v35h1v-35zM311 450v61h1v-61zM312 450v37h1v-37zM313 468v26h1v-26zM314 446v53h1v-53zM315 466v19h1v-19zM316 465v37h1v-37zM317 451v46h1v-46zM318 466v29h1v-29zM319 425v77h1v-77zM320 447v54h1v-54zM321 463v30h1v-30zM322 461v48h1v-48zM323 442v58h1v-58zM324 430v74h1v-74zM325 449v54h1v-54zM326 460v23h1v-23zM327 456v39h1v-39zM328 456v36h1v-36zM329 463v20h1v-20zM330 449v49h1v-49zM331 454v32h1v-32zM332 459v34h1v-34zM333 454v40h1v-40zM334 469v15h1v-15zM335 448v56h1v-56zM336 462v28h1v-28zM337 462v25h1v-25zM338 444v46h1v-46zM339 450v38h1v-38zM340 474v14h1v-14zM341 465v18h1v-18zM342 454v34h1v-34zM343 456v43h1v-43zM344 468v10h1v-10zM345 470v14h1v-14zM346 465v29h1v-29zM347 457v22h1v-22zM348 471v16h1v-16zM349 475v15h1v-15zM350 461v29h1v-29zM351 469v9h1v-9zM352 474v16h1v-16zM353 459v31h1v-31zM354 461v22h1v-22zM355 472v12h1v-12zM356 461v31h1v-31zM357 462v26h1v-26zM358 468v11h1v-11zM359 469v10h1v-10zM360 469v13h1v-13zM361 468v17h1v-17zM362 470v14h1v-14zM363 459v21h1v-21zM364 474v11h1v-11zM365 473v12h1v-12zM366 467v14h1v-14zM367 468v18h1v-18zM368 461v22h1v-22zM369 474v9h1v-9zM370 465v13h1v-13zM371 468v13h1v-13zM372 470v15h1v-15zM373 468v18h1v-18zM374 464v12h1v-12zM375 475v8h1v-8zM376 464v23h1v-23zM377 463v23h1v-23zM378 464v21h1v-21zM379 470v15h1v-15zM380 471v10h1v-10zM381 469v14h1v-14zM382 467v17h1v-17zM383 466v16h1v-16zM384 471v15h1v-15zM385 468v12h1v-12zM386 468v18h1v-18zM387 472v14h1v-14zM388 468v11h1v-11zM389 474v4h1v-4zM390 475v8h1v-8zM391 474v6h1v-6zM392 471v6h1v-6zM393 472v7h1v-7zM394 474v5h1v-5zM395 473v8h1v-8zM396 468v12h1v-12zM397 475v3h1v-3zM398 473v9h1v-9zM399 467v9h1v-9zM400 473v6h1v-6zM401 470v12h1v-12zM402 471v7h1v-7zM403 472v5h1v-5zM404 473v9h1v-9zM405 468v8h1v-8zM406 468v12h1v-12zM407 473v4h1v-4zM408 474v6h1v-6zM409 474v5h1v-5zM410 473v4h1v-4zM411 472v6h1v-6zM412 475v4h1v-4zM413 474v5h1v-5zM414 471v6h1v-6zM415 471v8h1v-8zM416 470v13h1v-13zM417 467v11h1v-11zM418 468v12h1v-12zM419 474v4h1v-4zM420 471v8h1v-8zM421 471v9h1v-9zM422 472v11h1v-11zM423 468v8h1v-8zM424 468v11h1v-11zM425 474v4h1v-4zM426 473v7h1v-7zM427 474v5h1v-5zM428 473v8h1v-8zM429 475v4h1v-4zM430 472v4h1v-4zM431 473v4h1v-4zM432 473v5h1v-5zM433 473v4h1v-4zM434 474v4h1v-4zM435 473v6h1v-6zM436 472v6h1v-6zM437 472v5h1v-5zM438 473v5h1v-5zM439 474v4h1v-4zM440 474v5h1v-5zM441 473v6h1v-6zM442 472v4h1v-4zM443 472v5h1v-5zM444 472v5h1v-5zM445 473v4h1v-4zM446 474v5h1v-5zM447 474v4h1v-4zM448 473v4h1v-4zM449 473v5h1v-5zM450 471v6h1v-6zM451 474v5h1v-5zM452 474v4h1v-4zM453 471v6h1v-6zM454 473v4h1v-4zM455 474v5h1v-5zM456 474v5h1v-5zM457 472v5h1v-5zM458 473v5h1v-5zM459 473v4h1v-4zM460 474v4h1v-4zM461 473v6h1v-6zM462 474v4h1v-4zM463 474v5h1v-5zM464 472v5h1v-5zM465 474v4h1v-4zM466 473v4h1v-4zM467 473v4h1v-4zM468 473v4h1v-4zM469 474v5h1v-5zM470 475v4h1v-4zM471 475v5h1v-5zM472 473v6h1v-6zM473 471v7h1v-7zM474 474v4h1v-4zM475 473v4h1v-4zM476 472v5h1v-5zM477 472v4h1v-4zM478 473v4h1v-4zM479 474v5h1v-5zM480 475v2h1v-2zM481 474v2h1v-2zM482 473v3h1v-3zM483 474v3h1v-3zM484 475v2h1v-2zM485 474v4h1v-4zM486 473v4h1v-4zM487 473v3h1v-3zM488 474v3h1v-3zM489 474v4h1v-4zM490 474v3h1v-3zM491 474v3h1v-3zM492 474v3h1v-3zM493 473v3h1v-3zM494 474v2h1v-2zM495 474v3h1v-3zM496 475v2h1v-2zM497 475v2h1v-2zM498 473v4h1v-4zM499 474v2h1v-2zM500 474v3h1v-3zM501 474v3h1v-3zM502 474v3h1v-3zM503 474v3h1v-3zM504 474v3h1v-3zM505 474v3h1v-3zM506 473v4h1v-4zM507 474v4h1v-4zM508 475v2h1v-2zM509 475v2h1v-2zM510 473v4h1v-4zM511 474v4h1v-4zM512 474v4h1v-4zM513 474v3h1v-3zM514 473v3h1v-3zM515 474v2h1v-2zM516 474v3h1v-3zM517 474v4h1v-4zM518 474v2h1v-2zM519 474v3h1v-3zM520 474v4h1v-4zM521 474v3h1v-3zM522 473v3h1v-3zM523 474v3h1v-3zM524 474v4h1v-4zM525 474v3h1v-3zM526 474v3h1v-3zM527 474v3h1v-3zM528 475v2h1v-2zM529 474v3h1v-3zM530 473v4h1v-4zM531 474v3h1v-3zM532 475v2h1v-2zM533 474v3h1v-3zM534 474v3h1v-3zM535 474v3h1v-3zM536 474v3h1v-3zM537 474v2h1v-2zM538 473v3h1v-3zM539 475v2h1v-2zM540 475v3h1v-3zM541 475v2h1v-2zM542 474v2h1v-2zM543 474v2h1v-2zM544 474v3h1v-3zM545 474v3h1v-3zM546 474v3h1v-3zM547 474v3h1v-3zM548 475v2h1v-2zM549 474v3h1v-3zM550 474v3h1v-3zM551 475v2h1v-2zM552 474v3h1v-3zM553 474v3h1v-3zM554 474v2h1v-2zM555 475v2h1v-2zM556 475v3h1v-3zM557 475v2h1v-2zM558 475v1h1v-1zM559 474v3h1v-3zM560 474v2h1v-2zM561 474v2h1v-2zM562 474v3h1v-3zM563 475v2h1v-2zM564 474v3h1v-3zM565 473v3h1v-3zM566 474v2h1v-2zM567 474v3h1v-3zM568 475v2h1v-2zM569 475v2h1v-2zM570 474v3h1v-3zM571 475v1h1v-1zM572 474v3h1v-3zM573 475v2h1v-2zM574 474v3h1v-3zM575 475v2h1v-2zM576 474v3h1v-3zM577 474v2h1v-2zM578 474v3h1v-3zM579 475v3h1v-3zM580 475v2h1v-2zM581 474v2h1v-2zM582 473v3h1v-3zM583 474v2h1v-2zM584 474v3h1v-3zM585 474v3h1v-3zM586 475v3h1v-3zM587 475v3h1v-3zM588 474v3h1v-3zM589 473v3h1v-3zM590 474v2h1v-2zM591 474v3h1v-3zM592 475v2h1v-2zM593 474v3h1v-3zM594 474v2h1v-2zM595 474v2h1v-2zM596 474v3h1v-3zM597 474v3h1v-3zM598 474v2h1v-2zM599 474v3h1v-3zM600 474v2h1v-2zM601 474v3h1v-3zM602 474v3h1v-3zM603 475v2h1v-2zM604 474v3h1v-3zM605 473v3h1v-3zM606 474v2h1v-2zM607 474v3h1v-3zM608 475v2h1v-2zM609 475v2h1v-2zM610 474v3h1v-3zM611 474v3h1v-3zM612 474v2h1v-2zM613 474v2h1v-2zM614 474v3h1v-3zM615 475v2h1v-2zM616 475v2h1v-2zM617 475v2h1v-2zM618 474v3h1v-3zM619 474v3h1v-3zM620 474v2h1v-2zM621 474v3h1v-3zM622 474v2h1v-2zM623 475v2h1v-2zM624 474v3h1v-3zM625 474v2h1v-2zM626 474v3h1v-3zM627 474v2h1v-2zM628 474v3h1v-3zM629 474v2h1v-2zM630 474v3h1v-3zM631 475v2h1v-2zM632 475v2h1v-2zM633 474v3h1v-3zM634 474v3h1v-3zM635 474v2h1v-2zM636 474v3h1v-3zM637 474v3h1v-3zM638 475v2h1v-2zM639 475v2h1v-2zM640 474v3h1v-3zM641 475v1h1v-1zM642 474v2h1v-2zM643 474v2h1v-2zM644 474v2h1v-2zM645 474v3h1v-3zM646 475v2h1v-2zM647 475v3h1v-3zM648 475v2h1v-2zM649 474v2h1v-2zM650 474v2h1v-2zM651 474v2h1v-2zM652 474v3h1v-3zM653 474v3h1v-3zM654 475v2h1v-2zM655 475v2h1v-2zM656 474v3h1v-3zM657 474v2h1v-2zM658 474v3h1v-3zM659 474v3h1v-3zM660 474v3h1v-3zM661 474v3h1v-3zM662 475v2h1v-2zM663 475v2h1v-2zM664 474v3h1v-3zM665 474v2h1v-2zM666 474v2h1v-2zM667 474v3h1v-3zM668 474v2h1v-2zM669 475v2h1v-2zM670 475v2h1v-2zM671 475v2h1v-2zM672 474v2h1v-2zM673 473v3h1v-3zM674 474v3h1v-3zM675 475v2h1v-2zM676 475v2h1v-2zM677 475v2h1v-2zM678 474v3h1v-3zM679 474v2h1v-2zM680 474v2h1v-2zM681 475v1h1v-1zM682 475v2h1v-2zM683 475v2h1v-2zM684 474v3h1v-3zM685 475v2h1v-2zM686 474v3h1v-3zM687 474v3h1v-3zM688 474v2h1v-2zM689 474v2h1v-2zM690 474v3h1v-3zM691 474v3h1v-3zM692 474v3h1v-3zM693 475v2h1v-2zM694 475v2h1v-2zM695 474v2h1v-2zM696 473v3h1v-3zM697 474v2h1v-2zM698 475v2h1v-2zM699 475v2h1v-2zM700 475v2h1v-2zM701 474v2h1v-2zM702 474v2h1v-2zM703 474v2h1v-2zM704 474v3h1v-3zM705 475v2h1v-2zM706 475v2h1v-2zM707 474v3h1v-3zM708 474v2h1v-2zM709 475v2h1v-2zM710 474v3h1v-3zM711 474v3h1v-3zM712 474v3h1v-3zM713 474v2h1v-2zM714 475v2h1v-2zM715 475v2h1v-2zM716 474v3h1v-3zM717 474v2h1v-2zM718 474v2h1v-2zM719 474v2h1v-2zM720 474v2h1v-2zM721 475v2h1v-2zM722 475v2h1v-2zM723 475v2h1v-2zM724 474v2h1v-2zM725 474v2h1v-2zM726 474v3h1v-3zM727 474v3h1v-3zM728 474v3h1v-3zM729 475v2h1v-2zM730 475v2h1v-2zM731 474v3h1v-3zM732 474v2h1v-2zM733 474v2h1v-2zM734 474v3h1v-3zM735 474v3h1v-3zM736 474v2h1v-2zM737 474v3h1v-3zM738 475v2h1v-2zM739 474v3h1v-3zM740 474v3h1v-3zM741 474v3h1v-3zM742 474v2h1v-2zM743 474v2h1v-2zM744 474v3h1v-3zM745 474v3h1v-3zM746 475v2h1v-2zM747 475v1h1v-1zM748 474v3h1v-3zM749 475v2h1v-2zM750 475v1h1v-1zM751 474v2h1v-2zM752 475v1h1v-1zM753 475v2h1v-2zM754 474v3h1v-3zM755 474v2h1v-2zM756 474v2h1v-2zM757 474v3h1v-3zM758 475v2h1v-2zM759 475v2h1v-2zM760 475v2h1v-2z"/>
</g>
</svg></body></html>
